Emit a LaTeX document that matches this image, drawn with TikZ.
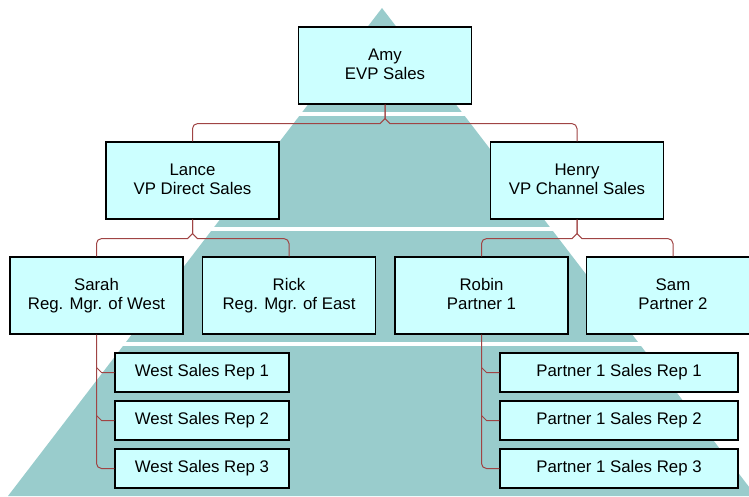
\documentclass[tikz,border=0pt]{standalone}
\usepackage{fontspec}
\setmainfont{Liberation Sans}
\usepackage{tikz}
\usepackage{xcolor}
\definecolor{pyramid-teal}{HTML}{99CCCC}
\definecolor{box-cyan}{HTML}{CCFFFF}
\definecolor{link-red}{HTML}{A04444}
\tikzset{
    org-box/.style = {draw=black, fill=box-cyan, line width=1.2pt, rectangle, minimum width=173pt, minimum height=77pt, inner sep=0pt, align=center, font=\fontsize{16.8}{19}\selectfont, execute at end node=\vphantom{g}},
    org-rep/.style = {org-box, minimum height=39pt},
    org-link/.style = {draw=link-red, line width=1pt},
}

\begin{document}
\begin{tikzpicture}[x=1pt, y=-1pt]
\useasboundingbox (0,0) rectangle (749,497);
\clip (0,0) rectangle (749,497);
% pyramid with its white gaps
\fill[pyramid-teal] (382,8) -- (756,496) -- (8,496) -- cycle;
\foreach \y in {112,227,342}
    \fill[white] (0,\y) rectangle (749,\y+3.6);

% boxes
\node[org-box] (amy) at (385,65.5) {Amy\\EVP Sales};
\node[org-box] (lance) at (192.5,180.5) {Lance\\VP Direct Sales};
\node[org-box] (henry) at (577,180.5) {Henry\\VP Channel Sales};
\node[org-box] (sarah) at (96.5,295.5) {Sarah\\Reg. Mgr. of West};
\node[org-box] (rick) at (289,295.5) {Rick\\Reg. Mgr. of East};
\node[org-box] (robin) at (481.5,295.5) {Robin\\Partner 1};
\node[org-box] (sam) at (673,295.5) {Sam\\Partner 2};
\foreach \i/\y in {1/372.5,2/420.5,3/468.5} {
    \node[org-rep, minimum width=174pt] (west\i) at (202,\y) {West Sales Rep \i};
    \node[org-rep, minimum width=238pt] (partner\i) at (619,\y) {Partner 1 Sales Rep \i};
}

% links
\draw[org-link] (amy.south) -- ++(0,14) -- ++(-5,5) [rounded corners=5pt] -| (lance.north);
\draw[org-link] (amy.south) -- ++(0,14) -- ++(5,5) [rounded corners=5pt] -| (henry.north);
\draw[org-link] (lance.south) -- ++(0,14) -- ++(-5,5) [rounded corners=5pt] -| (sarah.north);
\draw[org-link] (lance.south) -- ++(0,14) -- ++(5,5) [rounded corners=5pt] -| (rick.north);
\draw[org-link] (henry.south) -- ++(0,14) -- ++(-5,5) [rounded corners=5pt] -| (robin.north);
\draw[org-link] (henry.south) -- ++(0,14) -- ++(5,5) [rounded corners=5pt] -| (sam.north);
\draw[org-link, rounded corners=5pt] (sarah.south) |- (west3.west);
\draw[org-link, rounded corners=5pt] (robin.south) |- (partner3.west);
\foreach \i in {1,2} {
    \draw[org-link] (sarah.south |- west\i.west) ++(0,-5) -- ++(5,5) -- (west\i.west);
    \draw[org-link] (robin.south |- partner\i.west) ++(0,-5) -- ++(5,5) -- (partner\i.west);
}
\end{tikzpicture}
\end{document}
